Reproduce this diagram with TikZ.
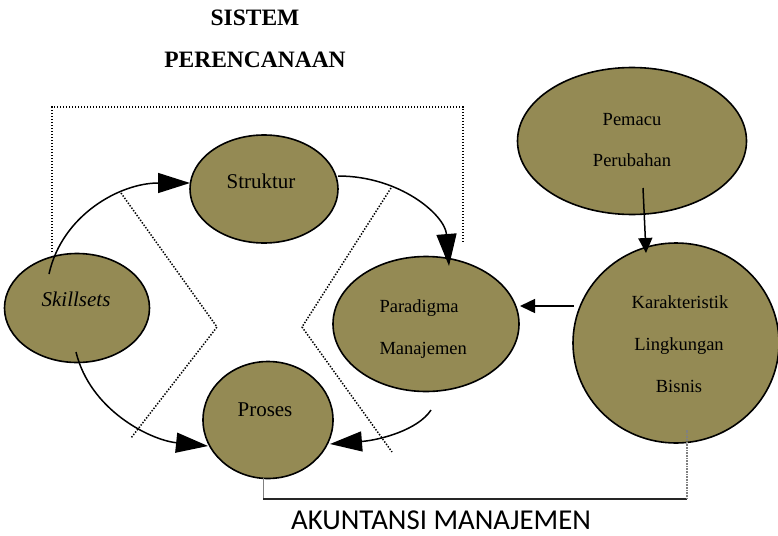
\documentclass[tikz,border=0pt]{standalone}
\usepackage{fontspec}
\setmainfont{Liberation Serif}
\newfontfamily\labelsans{Carlito}
\usetikzlibrary{shapes.geometric,arrows.meta,calc}
\definecolor{olivefill}{HTML}{948A54}
\begin{document}
\begin{tikzpicture}[x=1pt,y=-1pt,
  blob/.style={ellipse,draw=black,line width=1.6pt,fill=olivefill,inner sep=0pt},
  flow/.style={line width=1.5pt,-{Triangle[length=32pt,width=20pt]}},
  smallflow/.style={line width=1.5pt,-{Triangle[length=15pt,width=14pt]}},
  border/.style={line width=1.5pt,dash pattern=on 1.4pt off 1.6pt},
  bigtxt/.style={font=\fontsize{21}{24}\selectfont,anchor=base},
  txt/.style={font=\fontsize{18.5}{22}\selectfont,anchor=base},
  title/.style={font=\fontsize{23.5}{27}\selectfont\bfseries,anchor=base}]
\useasboundingbox (0,0) rectangle (778,535);

% title
\node[title] (t1) at (255,26) {SISTEM};
\node[title] (t2) at (255,67) {PERENCANAAN};

% dotted frame of the planning system
\coordinate (fa) at (52,252);
\coordinate (fb) at (52,107);
\coordinate (fc) at (463,107);
\coordinate (fd) at (463,243);
\draw[border] (fa) -- (fb) -- (fc) -- (fd);

% dotted chevrons
\coordinate (la) at (121,193);
\coordinate (lb) at (217,327);
\coordinate (lc) at (131,438);
\draw[border] (la) -- (lb) -- (lc);
\coordinate (ra) at (391,188);
\coordinate (rb) at (302,327);
\coordinate (rc) at (392,452);
\draw[border] (ra) -- (rb) -- (rc);

% ellipses
\node[blob,minimum width=148pt,minimum height=108pt] (st) at (264,189) {};
\node[blob,minimum width=145pt,minimum height=109pt] (sk) at (77,308) {};
\node[blob,minimum width=186pt,minimum height=135pt] (pm) at (426,324) {};
\node[blob,minimum width=130pt,minimum height=117pt] (pr) at (268,420) {};
\node[blob,minimum width=229pt,minimum height=147pt] (pc) at (632,141) {};
\node[blob,minimum width=206pt,minimum height=200pt] (kl) at (676,343) {};

% labels
\node[bigtxt] (tst) at (261,188) {Struktur};
\node[bigtxt] (tsk) at (76,306) {\itshape Skillsets};
\node[txt,anchor=base west] (tpm1) at (376,312) {Paradigma};
\node[txt,anchor=base west] (tpm2) at (376,354) {Manajemen};
\node[bigtxt] (tpr) at (265,416) {Proses};
\node[txt] (tpc1) at (632,125) {Pemacu};
\node[txt] (tpc2) at (632,166) {Perubahan};
\node[txt] (tkl1) at (680,308) {Karakteristik};
\node[txt] (tkl2) at (679,350) {Lingkungan};
\node[txt] (tkl3) at (679,392) {Bisnis};

% curved connectors
\draw[flow] ($(sk.center)+(-28,-34)$) .. controls +(13,-59) and +(-70,0) .. ($(st.center)+(-74,-6)$);
\draw[flow] ($(st.center)+(74,-13)$) .. controls +(62,0) and +(-4,-51) .. ($(pm.center)+(23,-58)$);
\draw[flow] ($(sk.center)+(-1,44)$) .. controls +(14,58) and +(-58,-6) .. ($(pr.center)+(-60,26)$);
\draw[flow] ($(pm.center)+(5,86)$) .. controls +(-13,20) and +(50,-4) .. ($(pr.center)+(62,24)$);

% straight connectors
\draw[smallflow] ($(pc.center)+(11,47)$) -- ($(kl.center)+(-30,-90)$);
\draw[smallflow] ($(kl.center)+(-102,-37)$) -- ($(pm.center)+(94,-18)$);

% management accounting bracket
\coordinate (ba) at (263,478);
\coordinate (bb) at (263,499);
\coordinate (bc) at (687,499);
\coordinate (bd) at (687,430);
\draw[gray,line width=0.8pt] (ba) -- (bb);
\draw[black!85,line width=1.6pt] (bb) -- (bc);
\draw[gray,line width=2.2pt,dash pattern=on 1pt off 0.6pt] (bc) -- (bd);
\node[font=\labelsans\fontsize{28.8}{32}\selectfont,anchor=base] (ak) at (441,529) {AKUNTANSI MANAJEMEN};
\end{tikzpicture}
\end{document}
